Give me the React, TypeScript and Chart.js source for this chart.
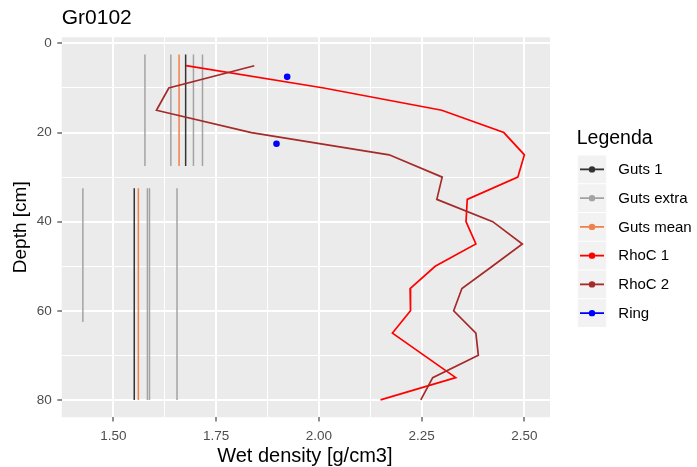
import React, { useEffect, useRef } from "react";
import { Chart, registerables } from "chart.js";

Chart.register(...registerables);

// ---------- data ----------
const depths = [5, 10, 15, 20, 25, 30, 35, 40, 45, 50, 55, 60, 65, 70, 75, 80];
const rhoC1 = [1.677, 2.012, 2.299, 2.45, 2.5, 2.484, 2.361, 2.358, 2.382, 2.283, 2.222, 2.223, 2.179, 2.256, 2.333, 2.15];
const rhoC2 = [1.843, 1.635, 1.605, 1.836, 2.171, 2.3, 2.287, 2.423, 2.495, 2.422, 2.348, 2.328, 2.382, 2.388, 2.277, 2.248];

const ringDepths = [7.5, 22.5];
const ringDensity = [1.923, 1.897];

const gutsSectionTop = [2.5, 32.5];
const gutsSectionBottom = [27.5, 80];
const guts1 = [1.676, 1.551];
const gutsMean = [1.66, 1.561];

const gutsExtraDensity = [1.577, 1.64, 1.695, 1.717, 1.426, 1.583, 1.588, 1.655];
const gutsExtraTop = [2.5, 2.5, 2.5, 2.5, 32.5, 32.5, 32.5, 32.5];
const gutsExtraBottom = [27.5, 27.5, 27.5, 27.5, 62.5, 80, 80, 80];

const xMajorTicks = [1.5, 1.75, 2.0, 2.25, 2.5];
const xTickLabels = ["1.50", "1.75", "2.00", "2.25", "2.50"];
const xMinorTicks = [1.625, 1.875, 2.125, 2.375];
const yMajorTicks = [0, 20, 40, 60, 80];
const yTickLabels = ["0", "20", "40", "60", "80"];
const yMinorTicks = [10, 30, 50, 70];

const legendLabels = ["Guts 1", "Guts extra", "Guts mean", "RhoC 1", "RhoC 2", "Ring"];
const chartTitle = "Gr0102";
const xTitle = "Wet density [g/cm3]";
const yTitle = "Depth [cm]";
const legendTitle = "Legenda";

// ---------- styles ----------
const COLORS: Record<string, string> = {
  "Guts 1": "#333333",
  "Guts extra": "#a3a3a3",
  "Guts mean": "#f0804a",
  "RhoC 1": "#ff0000",
  "RhoC 2": "#a52a2a",
  Ring: "#0000ff",
};
const FONT = "'Liberation Sans', Arial, sans-serif";

const X_MIN = 1.3745;
const X_MAX = 2.5623;
const Y_MIN = -1.375;
const Y_MAX = 83.875;

function segment(x: number, y0: number, y1: number) {
  return [
    { x, y: y0 },
    { x, y: y1 },
  ];
}

const panelPlugin = {
  id: "panelBg",
  beforeDraw(chart: any) {
    const { ctx, chartArea: a } = chart;
    ctx.save();
    ctx.fillStyle = "#ffffff";
    ctx.fillRect(0, 0, chart.width, chart.height);
    ctx.fillStyle = "#ebebeb";
    ctx.fillRect(a.left, a.top, a.right - a.left, a.bottom - a.top);
    ctx.restore();
  },
};

const textPlugin = {
  id: "ggText",
  afterDraw(chart: any) {
    const { ctx, chartArea: a } = chart;
    ctx.save();
    ctx.fillStyle = "#000000";
    // title
    ctx.font = `21px ${FONT}`;
    ctx.textAlign = "left";
    ctx.textBaseline = "alphabetic";
    ctx.fillText(chartTitle, a.left, 24);
    // x title
    ctx.font = `20px ${FONT}`;
    ctx.textAlign = "center";
    ctx.fillText(xTitle, (a.left + a.right) / 2 - 1, 461.5);
    // y title
    ctx.save();
    ctx.font = `19px ${FONT}`;
    ctx.translate(25.5, (a.top + a.bottom) / 2);
    ctx.rotate(-Math.PI / 2);
    ctx.fillText(yTitle, 0, 0);
    ctx.restore();
    // legend
    ctx.textAlign = "left";
    ctx.font = `19.5px ${FONT}`;
    ctx.fillText(legendTitle, 576.7, 144);
    const keyLeft = 577.3;
    const keyW = 29.4;
    const keyH = 28.75;
    const keyTop = 155;
    legendLabels.forEach((lab, i) => {
      const top = keyTop + i * keyH;
      const cy = top + keyH / 2;
      ctx.fillStyle = "#f2f2f2";
      ctx.fillRect(keyLeft + 0.5, top + 0.5, keyW - 1, keyH - 1);
      ctx.strokeStyle = COLORS[lab];
      ctx.lineWidth = 1.8;
      ctx.beginPath();
      ctx.moveTo(keyLeft + 2.7, cy);
      ctx.lineTo(keyLeft + keyW - 2.7, cy);
      ctx.stroke();
      ctx.fillStyle = COLORS[lab];
      ctx.beginPath();
      ctx.arc(keyLeft + keyW / 2, cy, 3.2, 0, Math.PI * 2);
      ctx.fill();
      ctx.fillStyle = "#000000";
      ctx.font = `15px ${FONT}`;
      ctx.textBaseline = "middle";
      ctx.fillText(lab, 618.3, cy + 0.5);
      ctx.textBaseline = "alphabetic";
    });
    ctx.restore();
  },
};

export default function App() {
  const ref = useRef<HTMLCanvasElement | null>(null);

  useEffect(() => {
    if (!ref.current) return;
    const datasets: any[] = [];

    datasets.push({
      label: "Ring",
      data: ringDepths.map((d, i) => ({ x: ringDensity[i], y: d })),
      showLine: false,
      pointRadius: 3.3,
      pointBackgroundColor: COLORS.Ring,
      pointBorderWidth: 0,
      order: 0,
    });
    datasets.push({
      label: "RhoC 2",
      data: depths.map((d, i) => ({ x: rhoC2[i], y: d })),
      showLine: true,
      borderColor: COLORS["RhoC 2"],
      borderWidth: 1.7,
      pointRadius: 0,
      order: 1,
    });
    datasets.push({
      label: "RhoC 1",
      data: depths.map((d, i) => ({ x: rhoC1[i], y: d })),
      showLine: true,
      borderColor: COLORS["RhoC 1"],
      borderWidth: 1.7,
      pointRadius: 0,
      order: 2,
    });
    gutsMean.forEach((v, i) =>
      datasets.push({
        label: "Guts mean",
        data: segment(v, gutsSectionTop[i], gutsSectionBottom[i]),
        showLine: true,
        borderColor: COLORS["Guts mean"],
        borderWidth: 1.5,
        pointRadius: 0,
        order: 3,
      })
    );
    guts1.forEach((v, i) =>
      datasets.push({
        label: "Guts 1",
        data: segment(v, gutsSectionTop[i], gutsSectionBottom[i]),
        showLine: true,
        borderColor: COLORS["Guts 1"],
        borderWidth: 1.5,
        pointRadius: 0,
        order: 4,
      })
    );
    gutsExtraDensity.forEach((v, i) =>
      datasets.push({
        label: "Guts extra",
        data: segment(v, gutsExtraTop[i], gutsExtraBottom[i]),
        showLine: true,
        borderColor: COLORS["Guts extra"],
        borderWidth: 1.5,
        pointRadius: 0,
        order: 5,
      })
    );

    const tickFont = { family: FONT, size: 13.5 };
    const chart = new Chart(ref.current, {
      type: "scatter",
      data: { datasets },
      plugins: [panelPlugin, textPlugin],
      options: {
        animation: false,
        responsive: false,
        devicePixelRatio: 1,
        events: [],
        layout: { padding: { top: 37.3, right: 147, left: 0, bottom: 0 } },
        plugins: { legend: { display: false }, tooltip: { enabled: false }, title: { display: false } },
        scales: {
          x: {
            type: "linear",
            min: X_MIN,
            max: X_MAX,
            bounds: "data",
            afterBuildTicks: (s: any) => {
              s.ticks = [...xMinorTicks, ...xMajorTicks].sort((a, b) => a - b).map((v) => ({ value: v }));
            },
            afterFit: (s: any) => {
              s.height = 49.8;
            },
            ticks: {
              autoSkip: false,
              maxRotation: 0,
              padding: 7,
              color: "#4d4d4d",
              font: tickFont,
              callback: (value: any) => {
                const i = xMajorTicks.indexOf(Number(value));
                return i >= 0 ? xTickLabels[i] : "";
              },
            },
            grid: {
              color: "#ffffff",
              lineWidth: (ctx: any) => (xMajorTicks.includes(ctx.tick?.value) ? 2 : 1),
              tickColor: (ctx: any) => (xMajorTicks.includes(ctx.tick?.value) ? "#333333" : "rgba(0,0,0,0)"),
              tickLength: 4.4,
              tickWidth: 1.1,
            },
            border: { display: false },
          },
          y: {
            type: "linear",
            reverse: true,
            min: Y_MIN,
            max: Y_MAX,
            bounds: "data",
            afterBuildTicks: (s: any) => {
              s.ticks = [...yMinorTicks, ...yMajorTicks].sort((a, b) => a - b).map((v) => ({ value: v }));
            },
            afterFit: (s: any) => {
              s.width = 61.7;
            },
            ticks: {
              autoSkip: false,
              padding: 5.5,
              color: "#4d4d4d",
              font: tickFont,
              callback: (value: any) => {
                const i = yMajorTicks.indexOf(Number(value));
                return i >= 0 ? yTickLabels[i] : "";
              },
            },
            grid: {
              color: "#ffffff",
              lineWidth: (ctx: any) => (yMajorTicks.includes(ctx.tick?.value) ? 2 : 1),
              tickColor: (ctx: any) => (yMajorTicks.includes(ctx.tick?.value) ? "#333333" : "rgba(0,0,0,0)"),
              tickLength: 4.4,
              tickWidth: 1.1,
            },
            border: { display: false },
          },
        },
      } as any,
    });
    return () => chart.destroy();
  }, []);

  return (
    <div style={{ position: "fixed", left: 0, top: 0, width: 697, height: 467, background: "#fff" }}>
      <canvas ref={ref} width={697} height={467} style={{ width: 697, height: 467, display: "block" }} />
    </div>
  );
}
